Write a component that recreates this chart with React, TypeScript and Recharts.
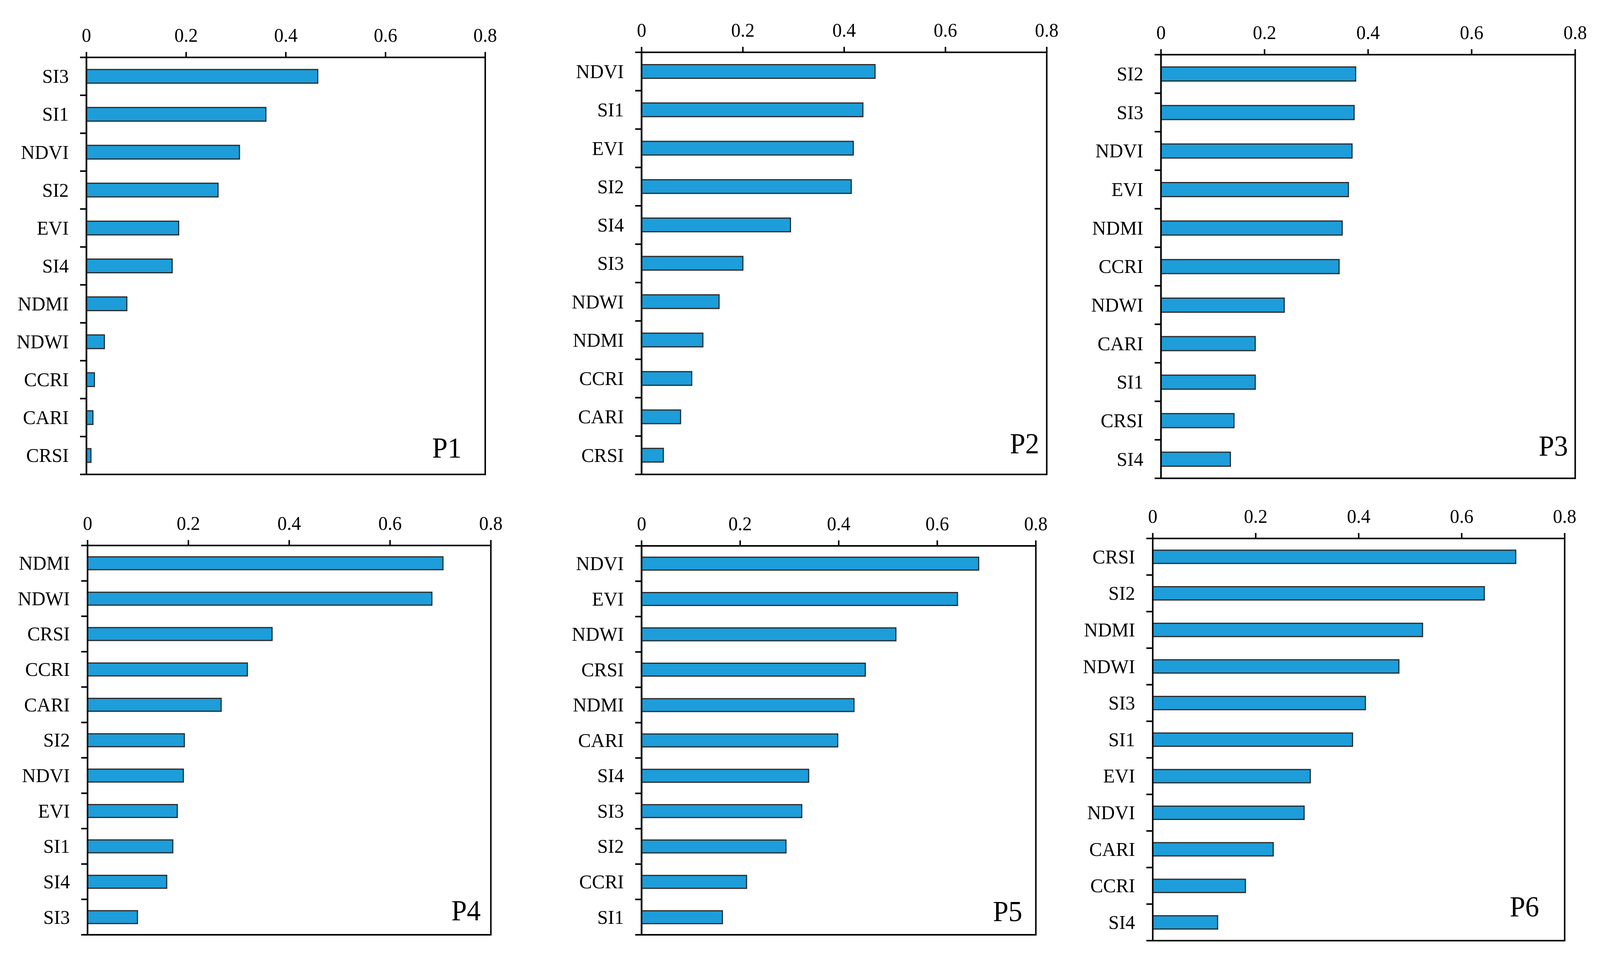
import React from "react";
import { BarChart, Bar, XAxis, YAxis, ReferenceArea } from "recharts";

// category order (top to bottom) and importance values for each site
const p1Names = ["SI3", "SI1", "NDVI", "SI2", "EVI", "SI4", "NDMI", "NDWI", "CCRI", "CARI", "CRSI"];
const p1Values = [0.464, 0.36, 0.307, 0.264, 0.185, 0.172, 0.081, 0.036, 0.016, 0.013, 0.009];

const p2Names = ["NDVI", "SI1", "EVI", "SI2", "SI4", "SI3", "NDWI", "NDMI", "CCRI", "CARI", "CRSI"];
const p2Values = [0.461, 0.437, 0.418, 0.414, 0.294, 0.2, 0.153, 0.121, 0.099, 0.077, 0.043];

const p3Names = ["SI2", "SI3", "NDVI", "EVI", "NDMI", "CCRI", "NDWI", "CARI", "SI1", "CRSI", "SI4"];
const p3Values = [0.376, 0.373, 0.369, 0.362, 0.35, 0.344, 0.238, 0.182, 0.182, 0.141, 0.134];

const p4Names = ["NDMI", "NDWI", "CRSI", "CCRI", "CARI", "SI2", "NDVI", "EVI", "SI1", "SI4", "SI3"];
const p4Values = [0.705, 0.683, 0.366, 0.317, 0.265, 0.192, 0.19, 0.178, 0.169, 0.157, 0.099];

const p5Names = ["NDVI", "EVI", "NDWI", "CRSI", "NDMI", "CARI", "SI4", "SI3", "SI2", "CCRI", "SI1"];
const p5Values = [0.684, 0.641, 0.516, 0.454, 0.431, 0.398, 0.339, 0.325, 0.293, 0.213, 0.164];

const p6Names = ["CRSI", "SI2", "NDMI", "NDWI", "SI3", "SI1", "EVI", "NDVI", "CARI", "CCRI", "SI4"];
const p6Values = [0.705, 0.644, 0.524, 0.478, 0.413, 0.388, 0.306, 0.294, 0.234, 0.18, 0.126];

const panelLabels = ["P1", "P2", "P3", "P4", "P5", "P6"];
const xTicks = [0, 0.2, 0.4, 0.6, 0.8];

// plot boxes on the page (left, top, right, bottom) and where the panel tag sits
const boxes = [
  { l: 230, t: 147, r: 1291, b: 1215, tagX: 1228, tagY: 1172 },
  { l: 1707, t: 134, r: 2785, b: 1215, tagX: 2765, tagY: 1161 },
  { l: 3089, t: 140, r: 4191, b: 1225, tagX: 4172, tagY: 1167 },
  { l: 233, t: 1397, r: 1306, b: 2394, tagX: 1279, tagY: 2357 },
  { l: 1707, t: 1398, r: 2756, b: 2394, tagX: 2720, tagY: 2359 },
  { l: 3067, t: 1379, r: 4163, b: 2409, tagX: 4095, tagY: 2347 },
];

const PAGE_W = 4257;
const PAGE_H = 2456;
const FONT = '"Liberation Serif", "Times New Roman", serif';
const BAR_FILL = "#1D9DD9";
const Y_TICK_LEN = 17;
const Y_TICK_MARGIN = 30;
const Y_AXIS_W = 200;
const X_AXIS_H = 80;
const M = { top: 40, left: 20, right: 60, bottom: 20 };

function CategoryTick(props: any) {
  const { x, y, payload, index, bandHalf } = props;
  const half = payload && typeof payload.offset === "number" && payload.offset > 0 ? payload.offset : bandHalf;
  const axisX = x + Y_TICK_MARGIN + Y_TICK_LEN;
  return (
    <g>
      <text x={x} y={y} dy="0.33em" textAnchor="end" fill="#000" fontSize={51} fontFamily={FONT}>
        {payload.value}
      </text>
      <line x1={axisX - Y_TICK_LEN} x2={axisX} y1={y + half} y2={y + half} stroke="#000" strokeWidth={4} />
      {index === 0 && (
        <line x1={axisX - Y_TICK_LEN} x2={axisX} y1={y - half} y2={y - half} stroke="#000" strokeWidth={4} />
      )}
    </g>
  );
}

function Panel({ names, values, box }: { names: string[]; values: number[]; box: any }) {
  const data = names.map((name, i) => ({ name, value: values[i] }));
  const plotW = box.r - box.l;
  const plotH = box.b - box.t;
  const width = plotW + Y_AXIS_W + M.left + M.right;
  const height = plotH + X_AXIS_H + M.top + M.bottom;
  const bandHalf = plotH / names.length / 2;
  return (
    <div
      style={{
        position: "absolute",
        left: box.l - Y_AXIS_W - M.left,
        top: box.t - X_AXIS_H - M.top,
        width,
        height,
      }}
    >
      <BarChart width={width} height={height} data={data} layout="vertical" margin={M} barCategoryGap="32%">
        <XAxis
          type="number"
          orientation="top"
          domain={[0, 0.8]}
          ticks={xTicks}
          height={X_AXIS_H}
          tickFormatter={(v: number) => (v === 0 ? "0" : v.toFixed(1))}
          axisLine={{ stroke: "#000", strokeWidth: 4 }}
          tickLine={{ stroke: "#000", strokeWidth: 4 }}
          tickSize={14}
          tickMargin={26}
          tick={{ fill: "#000", fontSize: 50, fontFamily: FONT }}
          interval={0}
        />
        <YAxis
          type="category"
          dataKey="name"
          width={Y_AXIS_W}
          axisLine={{ stroke: "#000", strokeWidth: 4 }}
          tickLine={false}
          tickSize={Y_TICK_LEN}
          tickMargin={Y_TICK_MARGIN}
          interval={0}
          tick={(p: any) => <CategoryTick {...p} bandHalf={bandHalf} />}
        />
        <ReferenceArea x1={0} x2={0.8} fill="none" fillOpacity={0} stroke="#000" strokeWidth={4} />
        <Bar dataKey="value" fill={BAR_FILL} stroke="#2b2b2b" strokeWidth={3} isAnimationActive={false} />
      </BarChart>
    </div>
  );
}

export default function App() {
  const names = [p1Names, p2Names, p3Names, p4Names, p5Names, p6Names];
  const values = [p1Values, p2Values, p3Values, p4Values, p5Values, p6Values];
  // the browser viewport may be narrower than the figure; squeeze horizontally so nothing is cut
  const vw = typeof window !== "undefined" ? window.innerWidth : PAGE_W;
  const sx = Math.min(1, vw / PAGE_W);
  return (
    <div
      style={{
        position: "absolute",
        left: 0,
        top: 0,
        width: PAGE_W,
        height: PAGE_H,
        background: "#fff",
        overflow: "hidden",
        transform: `scaleX(${sx})`,
        transformOrigin: "0 0",
      }}
    >
      {boxes.map((box, i) => (
        <Panel key={panelLabels[i]} names={names[i]} values={values[i]} box={box} />
      ))}
      <svg width={PAGE_W} height={PAGE_H} style={{ position: "absolute", left: 0, top: 0, pointerEvents: "none" }}>
        {boxes.map((box, i) => (
          <text key={panelLabels[i]} x={box.tagX} y={box.tagY} textAnchor="end" fontSize={74} fontFamily={FONT} fill="#000">
            {panelLabels[i]}
          </text>
        ))}
      </svg>
    </div>
  );
}
